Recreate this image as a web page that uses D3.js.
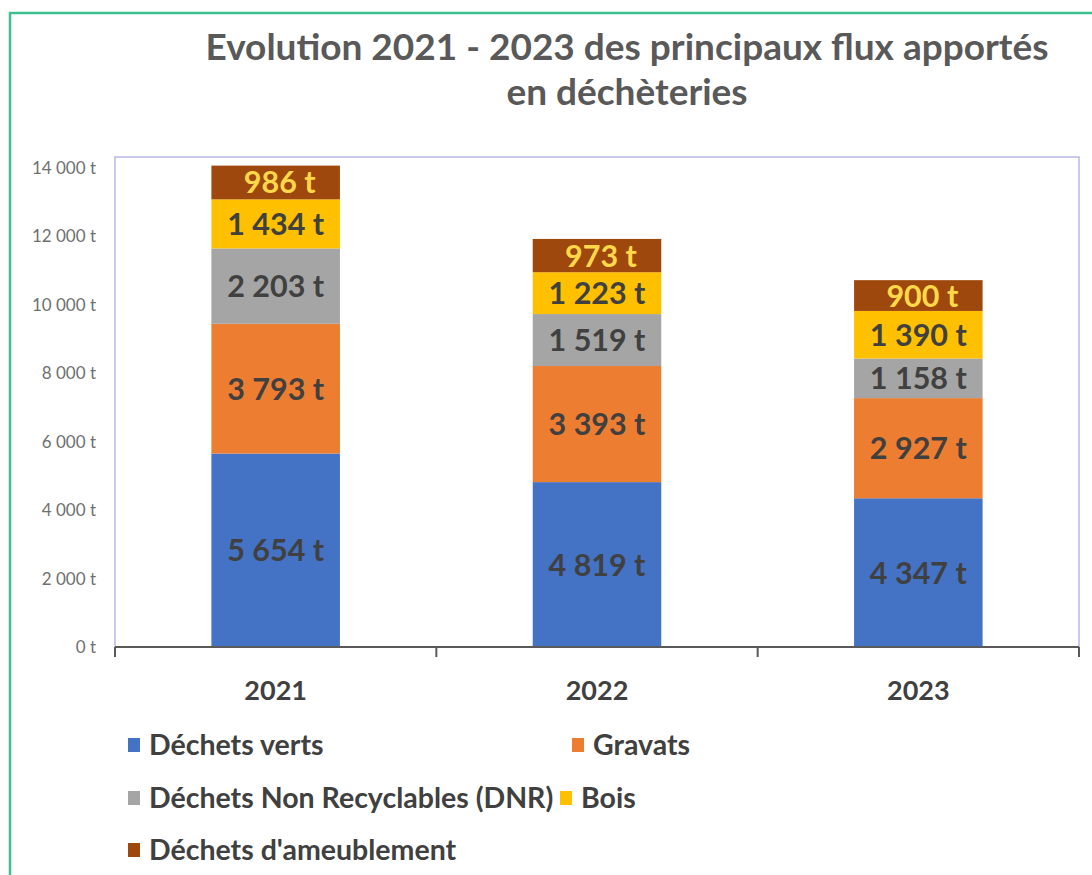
<!DOCTYPE html>
<html><head><meta charset="utf-8">
<script src="https://cdn.jsdelivr.net/npm/d3@7"></script>
<style>
html,body{margin:0;padding:0;background:#fff;}
svg{display:block;}
text{font-family:Lato,"Open Sans",sans-serif;}
</style></head>
<body>
<svg id="chart" width="1092" height="875"></svg>
<script>
const years = ["2021","2022","2023"];
const seriesNames = ["Déchets verts","Gravats","Déchets Non Recyclables (DNR)","Bois","Déchets d'ameublement"];
const dechetsVerts = [5654, 4819, 4347];
const gravats = [3793, 3393, 2927];
const dnr = [2203, 1519, 1158];
const bois = [1434, 1223, 1390];
const ameublement = [986, 973, 900];
const yTicks = [0, 2000, 4000, 6000, 8000, 10000, 12000, 14000];
const colors = ["#4472C4","#ED7D31","#A5A5A5","#FFC000","#9E480E"];
const labelColors = ["#404040","#404040","#404040","#404040","#FFD84A"];

const keys = ["v","g","d","b","a"];
const table = years.map((y,i)=>({year:y, v:dechetsVerts[i], g:gravats[i], d:dnr[i], b:bois[i], a:ameublement[i]}));
const stacked = d3.stack().keys(keys)(table);

const svg = d3.select("#chart");
const fmt = v => d3.format(",")(v).replace(/,/g, " ") + " t";
const fmtTick = v => (v===0? "0" : d3.format(",")(v).replace(/,/g, " ")) + " t";

// outer green frame
svg.append("rect").attr("x",10).attr("y",13).attr("width",1100).attr("height",900)
  .attr("fill","none").attr("stroke","#3DBF8E").attr("stroke-width",2.5);

// title
const title = svg.append("text").attr("text-anchor","middle").attr("fill","#595959")
  .style("font-weight","700").style("font-size","37px");
title.append("tspan").attr("x",627).attr("y",60).text("Evolution 2021 - 2023 des principaux flux apportés");
title.append("tspan").attr("x",627).attr("y",105).text("en déchèteries");

const plot = {left:115, right:1079, top:157, bottom:647};
const x = d3.scaleBand().domain(years).range([plot.left, plot.right]).paddingInner(0.6).paddingOuter(0.3);
const y = d3.scaleLinear().domain([0,14000]).range([plot.bottom, 168]);

// plot area frame
svg.append("path")
  .attr("d", `M${plot.left},${plot.bottom}V${plot.top}H${plot.right}V${plot.bottom}`)
  .attr("fill","none").attr("stroke","#B8B8E6").attr("stroke-width",1.5);

// bars
const g = svg.append("g");
stacked.forEach((s,si)=>{
  g.selectAll(null).data(s).enter().append("rect")
    .attr("x", d=>x(d.data.year)).attr("width", x.bandwidth())
    .attr("y", d=>y(d[1])).attr("height", d=>y(d[0])-y(d[1]))
    .attr("fill", colors[si]);
  g.selectAll(null).data(s).enter().append("text")
    .attr("x", d=>x(d.data.year)+x.bandwidth()/2 + (si===4?4:0))
    .attr("y", d=>(y(d[0])+y(d[1]))/2)
    .attr("dy","0.36em").attr("text-anchor","middle")
    .attr("fill", labelColors[si])
    .style("font-weight","700").style("font-size","30.5px")
    .text(d=>fmt(d[1]-d[0]));
});

// y axis labels
svg.append("g").selectAll("text").data(yTicks).enter().append("text")
  .attr("x", 96).attr("y", d=>y(d)).attr("dy","0.35em").attr("text-anchor","end")
  .attr("fill","#707070").style("font-size","17px").text(fmtTick);

// x axis
const xAxisG = svg.append("g");
xAxisG.append("line").attr("x1",plot.left).attr("x2",plot.right).attr("y1",plot.bottom).attr("y2",plot.bottom)
  .attr("stroke","#5a5a5a").attr("stroke-width",2);
const tickXs = [0,1,2,3].map(i=>plot.left + i*(plot.right-plot.left)/3);
xAxisG.selectAll(".tk").data(tickXs).enter().append("line")
  .attr("x1",d=>d).attr("x2",d=>d).attr("y1",plot.bottom).attr("y2",plot.bottom+10)
  .attr("stroke","#5a5a5a").attr("stroke-width",2);
xAxisG.selectAll(".lbl").data(years).enter().append("text")
  .attr("x", d=>x(d)+x.bandwidth()/2).attr("y", 700).attr("text-anchor","middle")
  .attr("fill","#404040").style("font-weight","700").style("font-size","27px").text(d=>d);

// legend
const legendPos = [[128,745],[572,745],[128,798],[560,798],[128,850]];
const lg = svg.append("g");
seriesNames.forEach((n,i)=>{
  const [lx,ly] = legendPos[i];
  lg.append("rect").attr("x",lx).attr("y",ly-7).attr("width",12).attr("height",14).attr("fill",colors[i]);
  lg.append("text").attr("x",lx+21).attr("y",ly).attr("dy","0.36em").attr("fill","#404040")
    .style("font-weight","700").style("font-size","28.5px").text(n);
});
</script>
</body></html>
